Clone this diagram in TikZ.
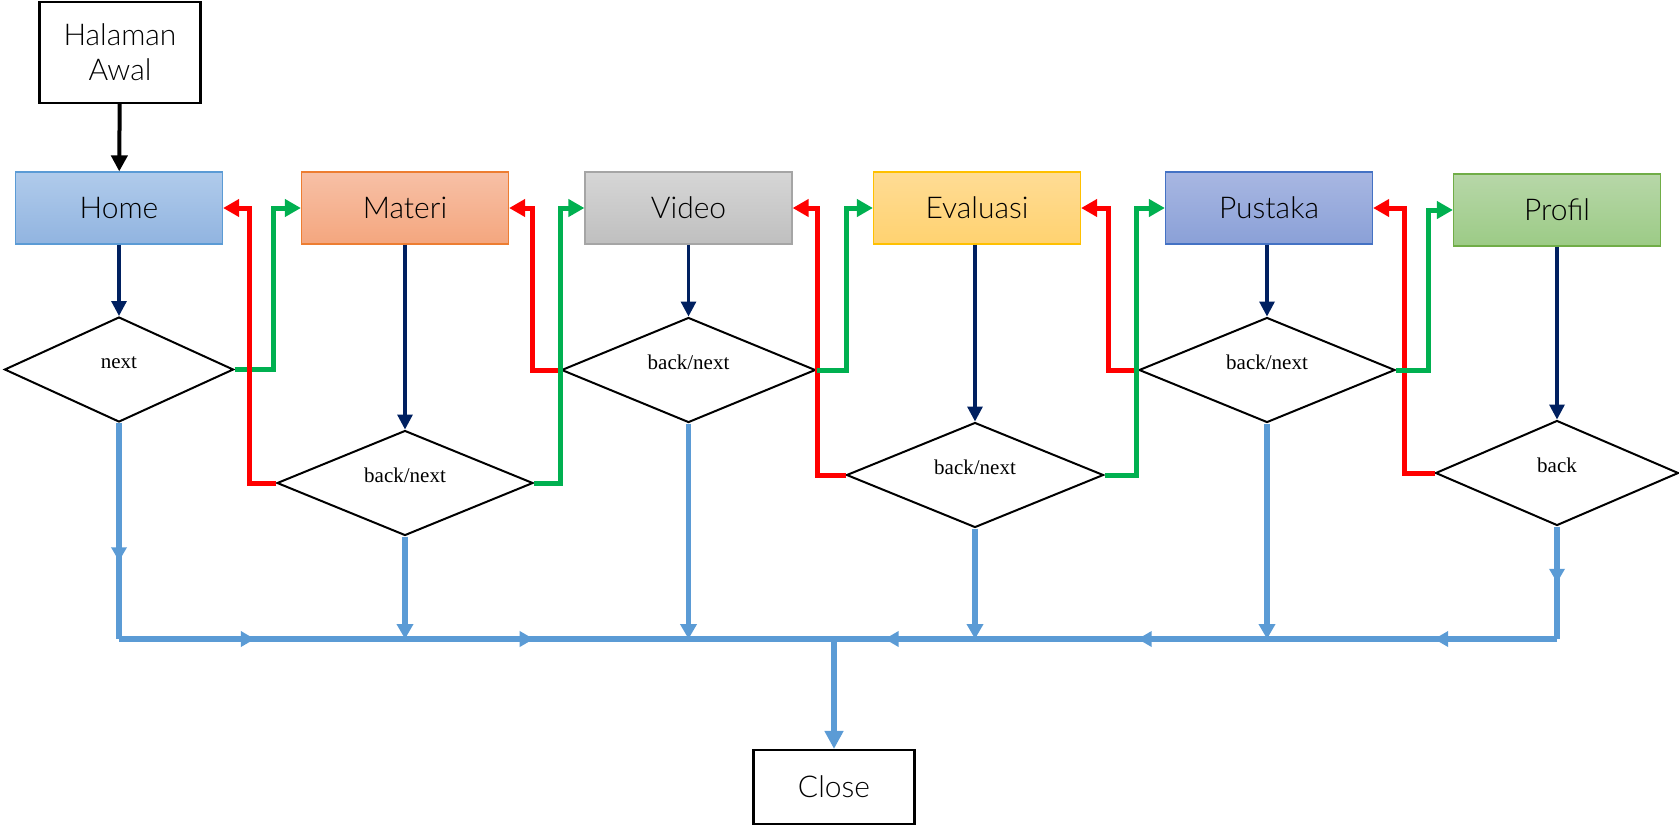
\documentclass[tikz,border=0pt]{standalone}
\usepackage{fontspec}
\usepackage{xcolor}
\usepackage{tikz}
\usetikzlibrary{positioning,calc,arrows.meta,shapes.geometric,decorations.markings}
\setmainfont{Liberation Serif}
\newfontfamily\pagefont{Lato Light}
\definecolor{navyline}{HTML}{002060}
\definecolor{backred}{HTML}{FF0000}
\definecolor{nextgreen}{HTML}{00B050}
\definecolor{exitblue}{HTML}{5B9BD5}
\definecolor{homeline}{HTML}{5B9BD5}
\definecolor{hometop}{HTML}{B0CBEB}
\definecolor{homebot}{HTML}{91B4E0}
\definecolor{materiline}{HTML}{ED7D31}
\definecolor{materitop}{HTML}{F7C0A6}
\definecolor{materibot}{HTML}{F4A67E}
\definecolor{videoline}{HTML}{A5A5A5}
\definecolor{videotop}{HTML}{D6D6D6}
\definecolor{videobot}{HTML}{BFBFBF}
\definecolor{evalline}{HTML}{FFC000}
\definecolor{evaltop}{HTML}{FFDC95}
\definecolor{evalbot}{HTML}{FFD270}
\definecolor{pustakaline}{HTML}{4472C4}
\definecolor{pustakatop}{HTML}{A8B7E2}
\definecolor{pustakabot}{HTML}{8AA0D7}
\definecolor{profilline}{HTML}{70AD47}
\definecolor{profiltop}{HTML}{B7D7A8}
\definecolor{profilbot}{HTML}{9CCB86}

\begin{document}
\begin{tikzpicture}[x=0.5pt, y=-0.5pt, pagebox/.style={draw=#1line, top color=#1top, bottom color=#1bot, line width=0.6pt, minimum width=103.5pt, minimum height=36pt, inner sep=0pt, font=\pagefont\fontsize{15}{18}\selectfont}, terminal/.style={draw=black, line width=1.1pt, fill=white, minimum width=80.5pt, inner sep=0pt, align=center, font=\pagefont\fontsize{15}{17.5}\selectfont}, decision/.style={diamond, aspect=2.4, draw=black, line width=1pt, minimum width=#1, minimum height=52.5pt, inner sep=0pt, text height=7pt, text depth=8pt, font=\fontsize{10.5}{12}\selectfont}, down/.style={-{Triangle[length=7.5pt,width=7.5pt]}, draw=navyline, line width=1.6pt}, gonext/.style={-{Triangle[length=8pt,width=8.5pt]}, draw=nextgreen, line width=2.5pt}, goback/.style={-{Triangle[length=8pt,width=8.5pt]}, draw=backred, line width=2.5pt}, exitline/.style={draw=exitblue, line width=2.6pt}, flow at/.style={postaction={decorate, decoration={markings, mark=at position #1 with {\arrow{Triangle[length=7pt,width=7.5pt]}}}}}]
\useasboundingbox (0,0) rectangle (1679,826);
% pages
\node[terminal, minimum height=50.5pt] (start) at (120,52.5) {Halaman\\Awal};
\node[pagebox=home] (home) at (119,208) {Home};
\node[pagebox=materi] (materi) at (405,208) {Materi};
\node[pagebox=video] (video) at (688.5,208) {Video};
\node[pagebox=eval] (eval) at (977,208) {Evaluasi};
\node[pagebox=pustaka] (pustaka) at (1269,208) {Pustaka};
\node[pagebox=profil] (profil) at (1557,210) {Profil};
% choices
\node[decision=114.5pt] (d1) at (119,369.5) {next};
\node[decision=128pt] (d2) at (405,483) {back/next};
\node[decision=127pt] (d3) at (688.5,370) {back/next};
\node[decision=128.5pt] (d4) at (975,475) {back/next};
\node[decision=128pt] (d5) at (1267,370) {back/next};
\node[decision=121.5pt] (d6) at (1557,473) {back};
\node[terminal, minimum height=37pt] (close) at (834,787) {Close};
\draw[-{Triangle[length=8pt,width=8pt]}, line width=2pt] (start) -- (home);
\draw[down] (home) -- (d1);
\draw[down] (materi) -- (d2);
\draw[down] (video) -- (d3);
\draw[down] (eval.south -| d4) -- (d4);
\draw[down] (pustaka.south -| d5) -- (d5);
\draw[down] (profil) -- (d6);
% back and next
\draw[gonext] (d1.east) -- ++(39,0) |- (materi.west);
\draw[goback] (d2.west) -- ++(-27,0) |- (home.east);
\draw[goback] (d3.west) -- ++(-28,0) |- (materi.east);
\draw[gonext] (d2.east) -- ++(26,0) |- (video.west);
\draw[goback] (d4.west) -- ++(-28,0) |- (video.east);
\draw[gonext] (d3.east) -- ++(30,0) |- (eval.west);
\draw[goback] (d5.west) -- ++(-30,0) |- (eval.east);
\draw[gonext] (d4.east) -- ++(32,0) |- (pustaka.west);
\draw[goback] (d6.west) -- ++(-30,0) |- (pustaka.east);
\draw[gonext] (d5.east) -- ++(32,0) |- (profil.west);
% exit
\coordinate (mid) at (834,639);
\coordinate (lc) at (d1.south |- mid);
\coordinate (rc) at (d6.south |- mid);
\draw[exitline, flow at=0.64] (d1.south) -- (lc);
\draw[exitline, flow at=0.19, flow at=0.58] (lc) -- (mid);
\draw[exitline, flow at=0.5] (d6.south) -- (rc);
\draw[exitline, flow at=0.17, flow at=0.58, flow at=0.93] (rc) -- (mid);
\foreach \d in {d2,d3,d4,d5}
  \draw[exitline, -{Triangle[length=7.5pt,width=8pt]}] (\d.south) -- (\d.south |- mid);
\draw[exitline, -{Triangle[length=9pt,width=9pt]}] (mid) -- (close);
\end{tikzpicture}
\end{document}
